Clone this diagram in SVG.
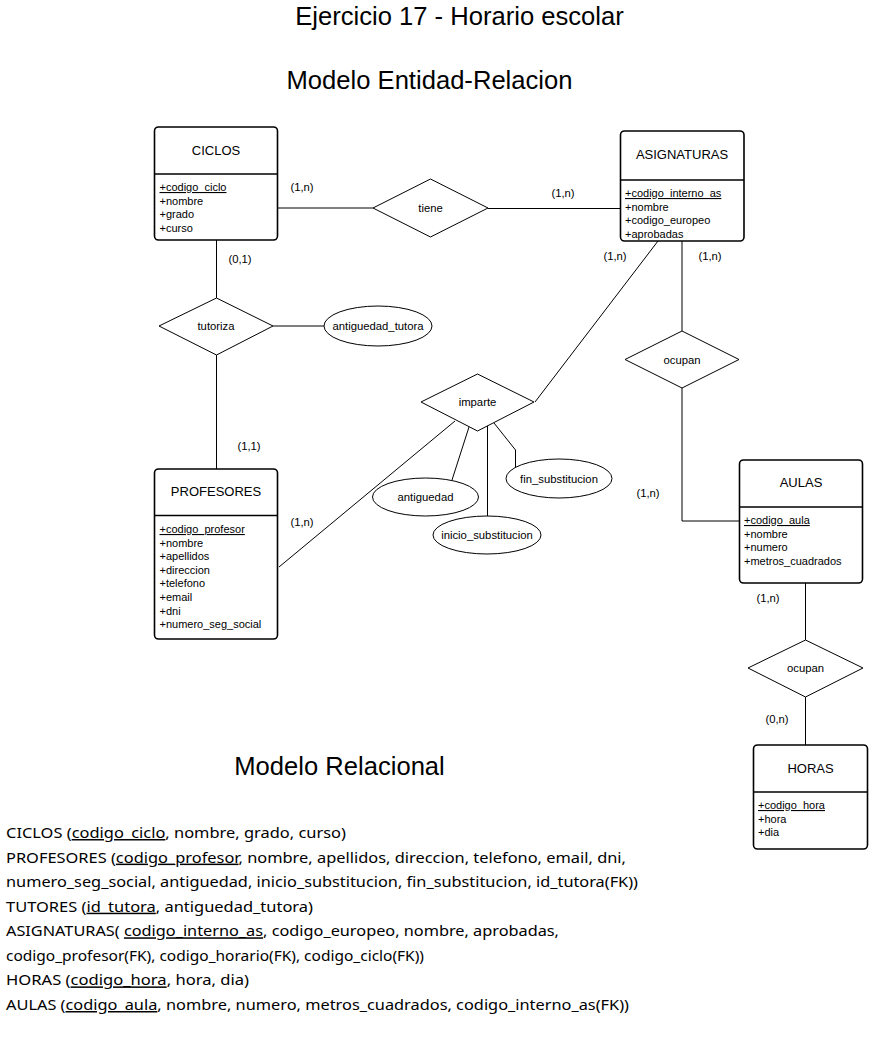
<svg xmlns="http://www.w3.org/2000/svg" width="871" height="1038" viewBox="0 0 871 1038">
<style>
text { font-family: "Liberation Sans", Arial, sans-serif; fill: #000; }
.title { font-size: 25.6px; text-anchor: middle; }
.ent { fill: #fff; stroke: #000; stroke-width: 1.6; }
.sep { stroke: #000; stroke-width: 1.6; }
.etitle { font-size: 13px; text-anchor: middle; }
.attr { font-size: 11px; }
.pk { text-decoration: underline; }
.rel { fill: #fff; stroke: #000; stroke-width: 1; }
.rlabel { font-size: 11.3px; text-anchor: middle; }
.card { font-size: 11.3px; text-anchor: middle; }
.conn { fill: none; stroke: #000; stroke-width: 1; }
.rt { font-family: "Noto Sans", "DejaVu Sans", sans-serif; font-size: 15px; }
.u { text-decoration: underline; }
</style>
<rect width="871" height="1038" fill="#fff"/>

<g id="titles">
<text class="title" x="459.5" y="25">Ejercicio 17 - Horario escolar</text>
<text class="title" x="429.5" y="89">Modelo Entidad-Relacion</text>
<text class="title" x="339.5" y="775">Modelo Relacional</text>
</g>

<g id="connectors">
<line class="conn" x1="278" y1="208" x2="373" y2="208"/>
<line class="conn" x1="488" y1="208.5" x2="620" y2="208.5"/>
<line class="conn" x1="216.5" y1="240" x2="216.5" y2="298"/>
<line class="conn" x1="273" y1="326" x2="324" y2="326"/>
<line class="conn" x1="216.5" y1="355" x2="216.5" y2="469"/>
<line class="conn" x1="682" y1="241" x2="682" y2="331"/>
<polyline class="conn" points="682,388 682,521 739,521"/>
<line class="conn" x1="658" y1="241" x2="535" y2="402"/>
<line class="conn" x1="455" y1="421" x2="279" y2="567"/>
<line class="conn" x1="469" y1="427" x2="452" y2="480"/>
<line class="conn" x1="487.5" y1="426" x2="487.5" y2="516"/>
<polyline class="conn" points="494,423 515.5,450 515.5,467"/>
<line class="conn" x1="805.5" y1="583" x2="805.5" y2="640"/>
<line class="conn" x1="805.5" y1="697" x2="805.5" y2="745"/>
</g>

<g id="cardinalities">
<text class="card" x="302" y="191">(1,n)</text>
<text class="card" x="563" y="197">(1,n)</text>
<text class="card" x="240" y="263">(0,1)</text>
<text class="card" x="615" y="260">(1,n)</text>
<text class="card" x="710" y="260">(1,n)</text>
<text class="card" x="249" y="450">(1,1)</text>
<text class="card" x="302" y="526">(1,n)</text>
<text class="card" x="648" y="497">(1,n)</text>
<text class="card" x="768" y="602">(1,n)</text>
<text class="card" x="777" y="723">(0,n)</text>
</g>

<g id="ciclos">
<rect class="ent" x="154.5" y="127" width="123" height="113" rx="4"/>
<line class="sep" x1="154.5" y1="174" x2="277.5" y2="174"/>
<text class="etitle" x="216" y="154.5">CICLOS</text>
<text class="attr pk" x="159.5" y="191">+codigo_ciclo</text>
<text class="attr" x="159.5" y="204.5">+nombre</text>
<text class="attr" x="159.5" y="218">+grado</text>
<text class="attr" x="159.5" y="231.5">+curso</text>
</g>

<g id="asignaturas">
<rect class="ent" x="620.5" y="131" width="123.5" height="110" rx="4"/>
<line class="sep" x1="620.5" y1="180" x2="744" y2="180"/>
<text class="etitle" x="682" y="158.5">ASIGNATURAS</text>
<text class="attr pk" x="625" y="197">+codigo_interno_as</text>
<text class="attr" x="625" y="210.5">+nombre</text>
<text class="attr" x="625" y="224">+codigo_europeo</text>
<text class="attr" x="625" y="237.5">+aprobadas</text>
</g>

<g id="profesores">
<rect class="ent" x="154.5" y="469" width="123" height="170" rx="4"/>
<line class="sep" x1="154.5" y1="515.5" x2="277.5" y2="515.5"/>
<text class="etitle" x="216" y="496">PROFESORES</text>
<text class="attr pk" x="159.5" y="533">+codigo_profesor</text>
<text class="attr" x="159.5" y="546.6">+nombre</text>
<text class="attr" x="159.5" y="560.2">+apellidos</text>
<text class="attr" x="159.5" y="573.8">+direccion</text>
<text class="attr" x="159.5" y="587.4">+telefono</text>
<text class="attr" x="159.5" y="601">+email</text>
<text class="attr" x="159.5" y="614.6">+dni</text>
<text class="attr" x="159.5" y="628.2">+numero_seg_social</text>
</g>

<g id="aulas">
<rect class="ent" x="739.5" y="460" width="123" height="123" rx="4"/>
<line class="sep" x1="739.5" y1="507" x2="862.5" y2="507"/>
<text class="etitle" x="801" y="487">AULAS</text>
<text class="attr pk" x="744" y="524">+codigo_aula</text>
<text class="attr" x="744" y="537.5">+nombre</text>
<text class="attr" x="744" y="551">+numero</text>
<text class="attr" x="744" y="564.5">+metros_cuadrados</text>
</g>

<g id="horas">
<rect class="ent" x="753.5" y="745" width="114" height="104" rx="4"/>
<line class="sep" x1="753.5" y1="792" x2="867.5" y2="792"/>
<text class="etitle" x="810.5" y="772.5">HORAS</text>
<text class="attr pk" x="758" y="809">+codigo_hora</text>
<text class="attr" x="758" y="822.5">+hora</text>
<text class="attr" x="758" y="836">+dia</text>
</g>

<g id="tiene">
<polygon class="rel" points="373,208 430.5,179 488,208 430.5,237"/>
<text class="rlabel" x="430.5" y="212">tiene</text>
</g>

<g id="tutoriza">
<polygon class="rel" points="159,326 216.5,298 273,326 216.5,355"/>
<text class="rlabel" x="216" y="330">tutoriza</text>
</g>

<g id="antiguedad_tutora">
<ellipse class="rel" cx="378" cy="326" rx="54" ry="20"/>
<text class="rlabel" x="378" y="330">antiguedad_tutora</text>
</g>

<g id="ocupan1">
<polygon class="rel" points="625,359.5 682,331 739,359.5 682,388"/>
<text class="rlabel" x="682" y="363.5">ocupan</text>
</g>

<g id="imparte">
<polygon class="rel" points="421,402 477.5,374 534,402 477.5,431"/>
<text class="rlabel" x="477.5" y="406">imparte</text>
</g>

<g id="antiguedad">
<ellipse class="rel" cx="425.5" cy="497" rx="53" ry="19"/>
<text class="rlabel" x="425.5" y="501">antiguedad</text>
</g>

<g id="inicio_substitucion">
<ellipse class="rel" cx="487" cy="535" rx="54" ry="19"/>
<text class="rlabel" x="487" y="539">inicio_substitucion</text>
</g>

<g id="fin_substitucion">
<ellipse class="rel" cx="559" cy="478.5" rx="53" ry="19.5"/>
<text class="rlabel" x="559" y="482.5">fin_substitucion</text>
</g>

<g id="ocupan2">
<polygon class="rel" points="748,668 805.5,640 863,668 805.5,697"/>
<text class="rlabel" x="805.5" y="672">ocupan</text>
</g>

<g id="relational">
<text class="rt" x="6" y="838" textLength="340" lengthAdjust="spacingAndGlyphs">CICLOS (<tspan class="u">codigo_ciclo</tspan>, nombre, grado, curso)</text>
<text class="rt" x="6" y="862.6" textLength="620" lengthAdjust="spacingAndGlyphs">PROFESORES (<tspan class="u">codigo_profesor</tspan>, nombre, apellidos, direccion, telefono, email, dni,</text>
<text class="rt" x="6" y="887.1" textLength="632" lengthAdjust="spacingAndGlyphs">numero_seg_social, antiguedad, inicio_substitucion, fin_substitucion, id_tutora(FK))</text>
<text class="rt" x="6" y="911.7" textLength="307" lengthAdjust="spacingAndGlyphs">TUTORES (<tspan class="u">id_tutora</tspan>, antiguedad_tutora)</text>
<text class="rt" x="6" y="936.3" textLength="553" lengthAdjust="spacingAndGlyphs">ASIGNATURAS( <tspan class="u">codigo_interno_as</tspan>, codigo_europeo, nombre, aprobadas,</text>
<text class="rt" x="6" y="960.9" textLength="418" lengthAdjust="spacingAndGlyphs">codigo_profesor(FK), codigo_horario(FK), codigo_ciclo(FK))</text>
<text class="rt" x="6" y="985.4" textLength="243" lengthAdjust="spacingAndGlyphs">HORAS (<tspan class="u">codigo_hora</tspan>, hora, dia)</text>
<text class="rt" x="6" y="1010" textLength="623" lengthAdjust="spacingAndGlyphs">AULAS (<tspan class="u">codigo_aula</tspan>, nombre, numero, metros_cuadrados, codigo_interno_as(FK))</text>
</g>
</svg>
